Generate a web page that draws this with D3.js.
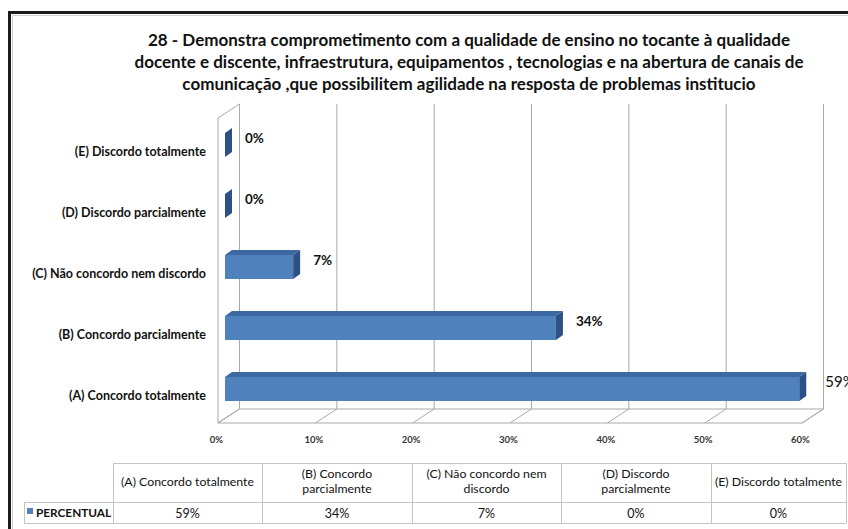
<!DOCTYPE html>
<html>
<head>
<meta charset="utf-8">
<script src="https://cdn.jsdelivr.net/npm/d3@7"></script>
<style>
  body { margin: 0; background: #fff; }
  svg { display: block; font-family: Lato, "Open Sans", sans-serif; }
</style>
</head>
<body>
<div id="chart"></div>
<script>
let titleLines = [
    "28 - Demonstra comprometimento com a qualidade de ensino no tocante à qualidade",
    "docente e discente, infraestrutura, equipamentos , tecnologias e na abertura de  canais de",
    "comunicação ,que possibilitem agilidade na resposta de problemas institucio"
]
let categories = ["(A) Concordo totalmente", "(B) Concordo parcialmente", "(C) Não concordo nem discordo",
    "(D) Discordo parcialmente", "(E) Discordo totalmente"]
let tableHeaders = [["(A) Concordo totalmente"], ["(B) Concordo", "parcialmente"], ["(C) Não concordo nem", "discordo"],
    ["(D) Discordo", "parcialmente"], ["(E) Discordo totalmente"]]
let values = [59, 34, 7, 0, 0]
let seriesName = "PERCENTUAL"
let tickValues = [0, 10, 20, 30, 40, 50, 60]

let svgWidth = 848
let svgHeight = 529

// front floor edge, and the depth offset of the back wall
let front = { x: 218, y: 423 }
let depth = { dx: 21.5, dy: -14 }
let wallTop = 104
let barOff = { dx: 7, dy: -5 }   // bar front sits a bit behind the front plane
let barH = 24

let blue = "#4f81bd", blueTop = "#3d69a3", blueSide = "#2d5185"
let gridColor = "#a9a9a9"

let xScale = d3.scaleLinear().domain([0, 60]).range([0, 584])
let yScale = d3.scalePoint().domain(categories).range([389, 145])

let svg = d3.select("#chart").append("svg")
    .attr("width", svgWidth)
    .attr("height", svgHeight)

// outer frame (only top and left visible)
svg.append("path")
    .attr("d", "M12.5,529 V15.5 H848")
    .attr("fill", "none").attr("stroke", "#cfcfcf").attr("stroke-width", 1)
svg.append("path")
    .attr("d", "M9.5,529 V12.5 H848")
    .attr("fill", "none").attr("stroke", "#1a1a1a").attr("stroke-width", 3)

// title
svg.append("g").selectAll("text")
    .data(titleLines)
    .enter().append("text")
    .attr("x", 469)
    .attr("y", (d, i) => 46 + i * 22)
    .attr("text-anchor", "middle")
    .attr("font-size", 17)
    .attr("font-weight", "bold")
    .attr("fill", "#111")
    .text(d => d)

let plot = svg.append("g")

let bx = front.x + depth.dx, by = front.y + depth.dy

// side wall
plot.append("polygon")
    .attr("points", [[front.x, front.y], [front.x, wallTop - depth.dy], [bx, wallTop], [bx, by]].join(" "))
    .attr("fill", "#fff").attr("stroke", gridColor)

// floor
plot.append("polygon")
    .attr("points", [[front.x, front.y], [front.x + xScale(60), front.y], [bx + xScale(60), by], [bx, by]].join(" "))
    .attr("fill", "#fff").attr("stroke", gridColor)

// gridlines: floor slant + back wall vertical
let grid = plot.append("g").selectAll("g").data(tickValues).enter().append("g")
grid.append("line")
    .attr("x1", d => front.x + xScale(d)).attr("y1", front.y)
    .attr("x2", d => bx + xScale(d)).attr("y2", by)
    .attr("stroke", gridColor)
grid.append("line")
    .attr("x1", d => bx + xScale(d)).attr("y1", by)
    .attr("x2", d => bx + xScale(d)).attr("y2", wallTop)
    .attr("stroke", gridColor)

// x axis labels
let xAxis = d3.axisBottom(xScale)
    .tickValues(tickValues)
    .tickSize(0)
    .tickFormat(d => d + "%")
let axisG = plot.append("g")
    .attr("transform", "translate(" + (front.x - 2) + "," + (front.y + 10) + ")")
    .call(xAxis)
axisG.select(".domain").remove()
axisG.selectAll("text")
    .attr("font-family", "Lato, sans-serif")
    .attr("font-size", 9.5)
    .attr("font-weight", "bold")
    .attr("fill", "#333")

// category labels
plot.append("g").selectAll("text")
    .data(categories)
    .enter().append("text")
    .attr("x", 206)
    .attr("y", d => yScale(d) + 11)
    .attr("text-anchor", "end")
    .attr("font-size", 12.5)
    .attr("font-weight", "bold")
    .attr("fill", "#111")
    .text(d => d)

// bars
let bar0 = front.x + barOff.dx
let bars = plot.append("g").selectAll("g")
    .data(categories)
    .enter().append("g")

bars.append("rect")
    .attr("x", bar0)
    .attr("y", d => yScale(d) - barH / 2)
    .attr("width", (d, i) => xScale(values[i]))
    .attr("height", barH)
    .attr("fill", blue)

bars.append("polygon")
    .attr("points", (d, i) => {
        let y0 = yScale(d) - barH / 2, x1 = bar0 + xScale(values[i])
        return [[bar0, y0], [x1, y0], [x1 + barOff.dx, y0 + barOff.dy], [bar0 + barOff.dx, y0 + barOff.dy]].join(" ")
    })
    .attr("fill", blueTop)

bars.append("polygon")
    .attr("points", (d, i) => {
        let y0 = yScale(d) - barH / 2, x1 = bar0 + xScale(values[i])
        return [[x1, y0], [x1 + barOff.dx, y0 + barOff.dy], [x1 + barOff.dx, y0 + barH + barOff.dy], [x1, y0 + barH]].join(" ")
    })
    .attr("fill", blueSide)

// value labels (the largest one runs off the right edge, as in the original)
bars.append("text")
    .attr("x", (d, i) => bar0 + xScale(values[i]) + (i === 0 ? 26 : 20))
    .attr("y", d => yScale(d) - 2)
    .attr("font-size", (d, i) => i === 0 ? 15 : 13.5)
    .attr("font-weight", (d, i) => i === 0 ? "normal" : "bold")
    .attr("fill", "#111")
    .text((d, i) => values[i] + "%")

// data table
let colX = [113, 262, 412, 561, 711, 846]
let rowY = [463, 502, 523]
let tableColor = "#c4c4c4"
let table = svg.append("g")
    .attr("stroke", tableColor).attr("fill", "none")

table.append("path")
    .attr("d", "M" + colX[0] + "," + (rowY[0] + 0.5) + " H" + colX[5] +
        " M24," + (rowY[1] + 0.5) + " H" + colX[5] +
        " M24," + (rowY[2] + 0.5) + " H" + colX[5] +
        " M24.5," + rowY[1] + " V" + rowY[2])
table.selectAll("line")
    .data(colX)
    .enter().append("line")
    .attr("x1", d => d + 0.5).attr("x2", d => d + 0.5)
    .attr("y1", rowY[0]).attr("y2", rowY[2])

let headerG = svg.append("g").selectAll("g")
    .data(tableHeaders)
    .enter().append("g")
    .attr("transform", (d, i) => "translate(" + (colX[i] + colX[i + 1]) / 2 + "," + (rowY[0] + rowY[1]) / 2 + ")")
headerG.each(function (lines) {
    d3.select(this).selectAll("text")
        .data(lines)
        .enter().append("text")
        .attr("text-anchor", "middle")
        .attr("font-size", 12.3)
        .attr("fill", "#111")
        .attr("y", (d, i) => 3 + (i - (lines.length - 1) / 2) * 15)
        .text(d => d)
})

svg.append("g").selectAll("text")
    .data(values)
    .enter().append("text")
    .attr("x", (d, i) => (colX[i] + colX[i + 1]) / 2)
    .attr("y", rowY[1] + 16)
    .attr("text-anchor", "middle")
    .attr("font-size", 12.5)
    .attr("fill", "#111")
    .text(d => d + "%")

// legend key
svg.append("rect")
    .attr("x", 27).attr("y", 508)
    .attr("width", 6).attr("height", 6)
    .attr("fill", blue)
svg.append("text")
    .attr("x", 36).attr("y", 517)
    .attr("font-size", 11.8)
    .attr("font-weight", "bold")
    .attr("fill", "#111")
    .text(seriesName)
</script>
</body>
</html>
